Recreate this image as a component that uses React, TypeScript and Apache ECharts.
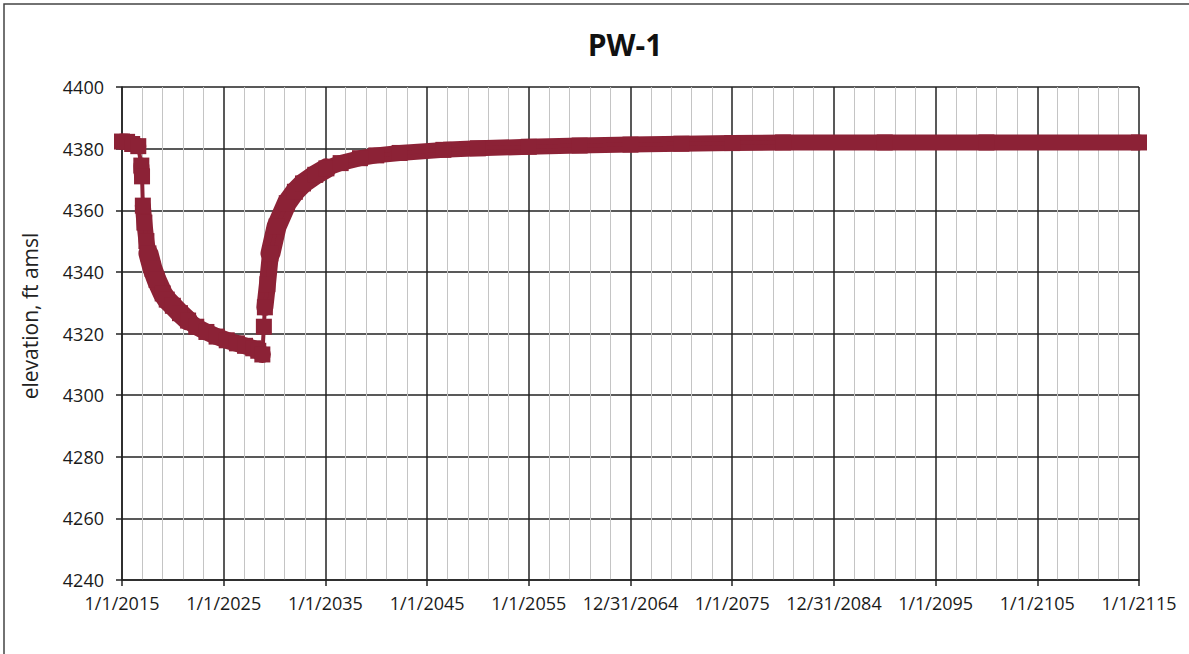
import React, { useEffect, useRef } from "react";
import * as echarts from "echarts";

const title = "PW-1";
const yAxisTitle = "elevation, ft amsl";
const startYear = 2015;
const xTickLabels = [
  "1/1/2015", "1/1/2025", "1/1/2035", "1/1/2045", "1/1/2055", "12/31/2064",
  "1/1/2075", "12/31/2084", "1/1/2095", "1/1/2105", "1/1/2115",
];

// decimal years and elevations
const years = [
  2015.0, 2015.5, 2016.0, 2016.6,
  2016.9, 2016.97,
  2017.05, 2017.2, 2017.4, 2017.6, 2018.0, 2018.4, 2019.0, 2019.4, 2020.0, 2020.7,
  2021.5, 2022.3, 2023.3, 2024.3, 2025.3, 2026.3, 2027.1, 2027.9, 2028.4, 2028.8,
  2028.95,
  2029.05, 2029.3, 2029.6, 2030.2, 2031.2, 2032.0, 2032.8, 2034.0, 2035.1, 2036.5,
  2038.4, 2040.0, 2042.3, 2046.6, 2050.0, 2055.0, 2060.0, 2065.0, 2070.0, 2075.0,
  2080.0, 2090.0, 2100.0, 2115.0,
];
const elevations = [
  4382.3, 4382.2, 4381.5, 4380.8,
  4374.5, 4371.0,
  4361.5, 4356.0, 4350.0, 4346.0, 4341.0, 4337.4, 4333.0, 4331.0, 4329.0, 4326.6,
  4324.2, 4322.2, 4320.5, 4319.0, 4317.8, 4316.8, 4316.0, 4315.2, 4314.4, 4313.2,
  4322.2,
  4328.5, 4336.0, 4346.0, 4354.7, 4362.3, 4366.0, 4368.7, 4371.5, 4373.6, 4375.3,
  4376.9, 4377.8, 4378.6, 4379.6, 4380.1, 4380.6, 4381.0, 4381.3, 4381.6, 4381.8,
  4382.0, 4382.0, 4382.0, 4382.0,
];
// index ranges (inclusive) where the markers overlap into a solid band, with band width
const bandRanges = [
  { from: 0, to: 3, width: 16 },
  { from: 4, to: 5, width: 16 },
  { from: 6, to: 9, width: 16 },
  { from: 9, to: 16, width: 20 },
  { from: 16, to: 25, width: 17 },
  { from: 27, to: 29, width: 17 },
  { from: 29, to: 35, width: 20 },
  { from: 35, to: 50, width: 16 },
];

const yMin = 4240;
const yMax = 4400;
const yStep = 20;

const COLOR = "#8c2236";
const FONT = "Open Sans";

export default function App() {
  const ref = useRef<HTMLDivElement>(null);
  useEffect(() => {
    if (!ref.current) return;
    const chart = echarts.init(ref.current, null, { renderer: "svg" });
    const pts = years.map((y, i) => [y - startYear, elevations[i]]);
    const bandSeries = bandRanges.map(({ from, to, width }) => ({
      type: "line",
      data: pts.slice(from, to + 1),
      showSymbol: false,
      symbol: "none",
      lineStyle: { color: COLOR, width, cap: "round", join: "round" },
      silent: true,
      z: 3,
    }));
    chart.setOption({
      animation: false,
      backgroundColor: "#ffffff",
      grid: { left: 122, right: 50, top: 87, bottom: 74, containLabel: false },
      graphic: [
        {
          type: "rect",
          x: 4,
          y: 4,
          shape: { width: 1300, height: 800 },
          style: { fill: "none", stroke: "#444", lineWidth: 1.5 },
          silent: true,
        },
        {
          type: "text",
          x: 625,
          y: 44,
          style: {
            text: title,
            font: `bold 30px "${FONT}"`,
            fill: "#111",
            textAlign: "center",
            textVerticalAlign: "middle",
          },
        },
        {
          type: "text",
          x: 30,
          y: 316,
          rotation: Math.PI / 2,
          style: {
            text: yAxisTitle,
            font: `21px "${FONT}"`,
            fill: "#222",
            textAlign: "center",
            textVerticalAlign: "middle",
          },
        },
      ],
      xAxis: {
        type: "value",
        min: 0,
        max: 100,
        interval: 10,
        axisLine: { show: true, lineStyle: { color: "#222", width: 1.5 } },
        axisTick: { show: true, length: 6, inside: false, lineStyle: { color: "#222", width: 1.5 } },
        axisLabel: {
          show: true,
          margin: 14,
          color: "#1a1a1a",
          fontFamily: FONT,
          fontSize: 18,
          showMinLabel: true,
          showMaxLabel: true,
          formatter: (v: number) => xTickLabels[Math.round(v / 10)] ?? "",
        },
        splitLine: { show: true, lineStyle: { color: "#222", width: 1.5 } },
        minorTick: { show: false, splitNumber: 5 },
        minorSplitLine: { show: true, lineStyle: { color: "#c4c4c4", width: 1 } },
      },
      yAxis: {
        type: "value",
        min: yMin,
        max: yMax,
        interval: yStep,
        axisLine: { show: true, lineStyle: { color: "#222", width: 1.5 } },
        axisTick: { show: true, length: 6, inside: false, lineStyle: { color: "#222", width: 1.5 } },
        axisLabel: {
          margin: 18,
          color: "#1a1a1a",
          fontFamily: FONT,
          fontSize: 18,
          formatter: (v: number) => String(v),
        },
        splitLine: { show: true, lineStyle: { color: "#222", width: 1.5 } },
      },
      series: [
        {
          type: "line",
          data: pts,
          symbol: "rect",
          symbolSize: 16,
          showAllSymbol: true,
          itemStyle: { color: COLOR },
          lineStyle: { color: COLOR, width: 4 },
          z: 4,
        },
        ...bandSeries,
      ],
    });
    return () => chart.dispose();
  }, []);
  return (
    <div
      ref={ref}
      style={{ position: "fixed", left: 0, top: 0, width: 1189, height: 654 }}
    />
  );
}
